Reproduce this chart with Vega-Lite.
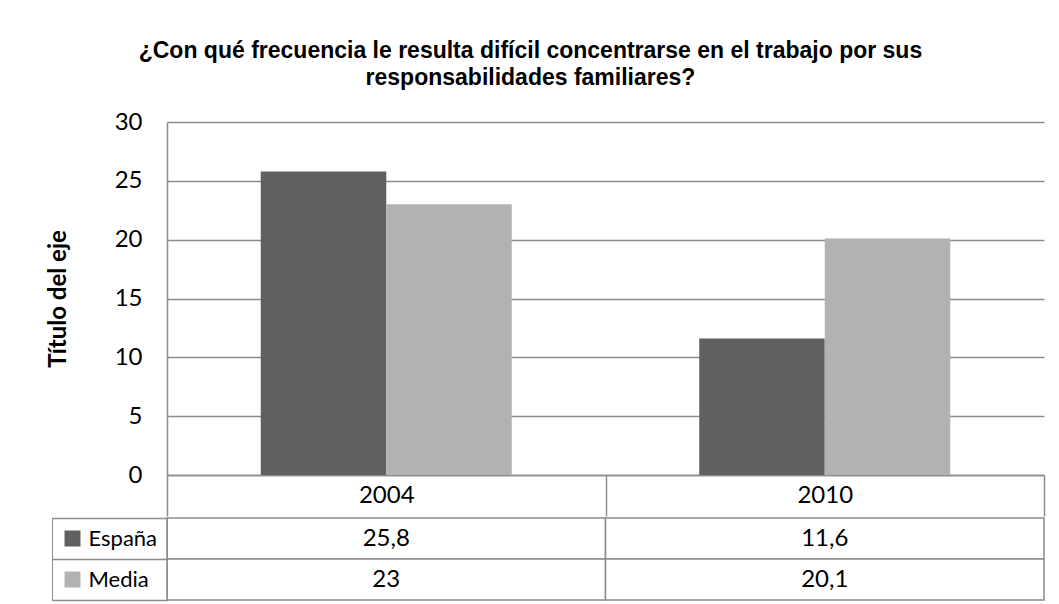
{
  "$schema": "https://vega.github.io/schema/vega-lite/v6.json",
  "background": "white",
  "padding": {"left": 46, "top": 40, "right": 12, "bottom": 2},
  "config": {
    "locale": {"number": {"decimal": ",", "thousands": ".", "grouping": [3], "currency": ["", " €"]}},
    "view": {"stroke": null},
    "concat": {"spacing": 0}
  },
  "title": {
    "text": ["¿Con qué frecuencia le resulta difícil concentrarse en el trabajo por sus", "responsabilidades familiares?"],
    "font": "Liberation Sans",
    "fontSize": 23,
    "fontWeight": "bold",
    "color": "#000000",
    "anchor": "middle",
    "lineHeight": 27,
    "offset": 20,
    "dx": -15
  },
  "data": {
    "values": [
      {"anio": "2004", "serie": "España", "valor": 25.8},
      {"anio": "2004", "serie": "Media", "valor": 23},
      {"anio": "2010", "serie": "España", "valor": 11.6},
      {"anio": "2010", "serie": "Media", "valor": 20.1}
    ]
  },
  "resolve": {"scale": {"color": "independent"}, "legend": {"color": "independent"}},
  "vconcat": [
    {
      "width": 877,
      "height": 353,
      "mark": {"type": "bar"},
      "encoding": {
        "x": {
          "field": "anio", "type": "nominal",
          "scale": {"domain": ["2004", "2010"], "paddingInner": 0, "paddingOuter": 0},
          "axis": {
            "title": null, "labelAngle": 0, "labelFont": "Lato", "labelFontSize": 24, "labelColor": "#000000",
            "domain": true, "domainColor": "#8c8c8c", "domainWidth": 1.5,
            "ticks": true, "tickBand": "extent", "tickSize": 41, "tickColor": "#8c8c8c", "tickWidth": 1.5,
            "labelPadding": -20.5, "labelBaseline": "middle"
          }
        },
        "xOffset": {
          "field": "serie", "type": "nominal",
          "scale": {"domain": ["España", "Media"], "paddingInner": 0, "paddingOuter": 0.747}
        },
        "y": {
          "field": "valor", "type": "quantitative",
          "scale": {"domain": [0, 30], "nice": false},
          "axis": {
            "values": [0, 5, 10, 15, 20, 25, 30],
            "title": "Título del eje", "titleFont": "Lato", "titleFontSize": 24, "titleFontWeight": "bold", "titleColor": "#000000",
            "titlePadding": 44,
            "labelFont": "Lato", "labelFontSize": 24, "labelColor": "#000000", "labelPadding": 25,
            "ticks": false, "domain": true, "domainColor": "#8c8c8c", "domainWidth": 1.5,
            "grid": true, "gridColor": "#8c8c8c", "gridWidth": 1.5
          }
        },
        "color": {
          "field": "serie", "type": "nominal",
          "scale": {"domain": ["España", "Media"], "range": ["#606060", "#b2b2b2"]},
          "legend": null
        }
      }
    },
    {
      "width": 877,
      "height": 82,
      "encoding": {
        "x": {
          "field": "anio", "type": "nominal",
          "scale": {"domain": ["2004", "2010"], "paddingInner": 0, "paddingOuter": 0},
          "axis": null
        },
        "y": {
          "field": "serie", "type": "nominal",
          "scale": {"domain": ["España", "Media"], "paddingInner": 0, "paddingOuter": 0},
          "axis": {
            "title": null, "labels": false, "domain": false, "grid": false,
            "ticks": true, "tickBand": "extent", "tickSize": 115, "tickColor": "#8c8c8c", "tickWidth": 1.5
          }
        }
      },
      "layer": [
        {
          "mark": {"type": "rect", "fill": "white", "stroke": "#8c8c8c", "strokeWidth": 1.5}
        },
        {
          "mark": {"type": "square", "opacity": 0},
          "encoding": {
            "color": {
              "field": "serie", "type": "nominal",
              "scale": {"domain": ["España", "Media"], "range": ["#606060", "#b2b2b2"]},
              "legend": {
                "title": null, "orient": "none", "legendX": -115, "legendY": 0,
                "symbolType": "square", "symbolSize": 256, "symbolStrokeWidth": 0, "symbolOpacity": 1,
                "labelFont": "Lato", "labelFontSize": 22, "labelColor": "#000000", "labelOffset": 5,
                "rowPadding": 19, "padding": 9.5, "strokeColor": "#8c8c8c"
              }
            }
          }
        },
        {
          "mark": {"type": "text", "font": "Lato", "fontSize": 24, "color": "#000000"},
          "encoding": {
            "text": {"field": "valor", "type": "quantitative", "format": "~g"}
          }
        }
      ]
    }
  ]
}
